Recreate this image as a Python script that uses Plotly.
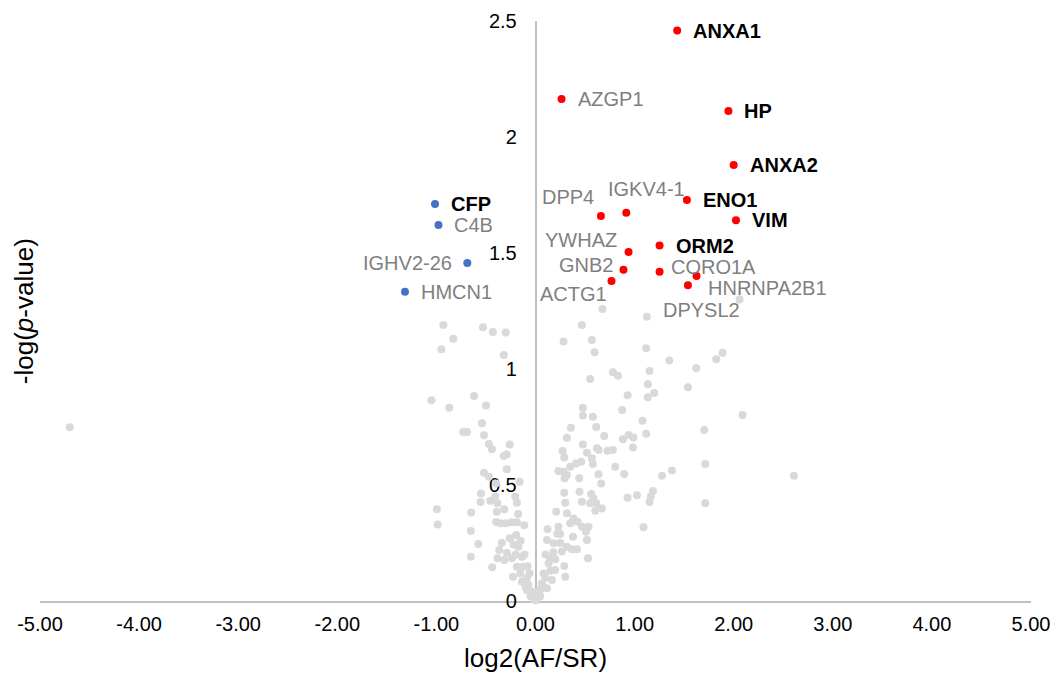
import plotly.graph_objects as go

# ---------------- data ----------------
# non-significant proteins (grey)
grey_x = [-4.70, -0.93, -0.83, -0.95, -0.53, -0.43, -0.30, -0.32, -1.05, -0.87, -0.62, -0.50,
          -0.54, -0.73, -0.69, -0.52, -0.47, -0.44, -0.26, -0.32, -0.29, -0.29, -0.52, -0.47,
          -0.40, -0.16, -0.55, -0.555, -0.457, -0.407, -0.384, -0.205, -0.188, -0.995, -0.987,
          -0.649, -0.39, -0.316, -0.397, -0.349, -0.296, -0.175, -0.238, -0.188, -0.114, -0.652,
          -0.578, -0.652, -0.437, -0.339, -0.366, -0.195, -0.222, -0.172, -0.289, -0.316, -0.238,
          -0.137, -0.121, -0.228, -0.154, -0.087, -0.071, -0.036, -0.013, -0.087, -0.137, -0.188,
          -0.384, -0.05, -0.10, -0.06, -0.11, -0.20, -0.15, -0.26, -0.03, -0.08,
          0.676, 1.124, 0.468, 0.283, 0.569, 0.596, 1.117, 1.35, 1.622, 1.151, 0.552, 0.781,
          0.832, 1.134, 1.538, 1.198, 1.134, 0.929, 0.875, 0.478, 0.478, 0.579, 0.357, 0.613,
          1.08, 1.117, 0.317, 0.693, 0.882, 0.939, 0.989, 0.983, 0.273, 0.478, 0.29, 0.519,
          0.62, 0.637, 0.727, 0.781, 0.569, 0.579, 0.461, 0.408, 0.35, 0.232, 0.283, 0.293,
          0.317, 0.441, 0.636, 0.663, 0.804, 0.895, 1.377, 1.276, 0.29, 0.444, 0.468, 0.562,
          0.585, 0.613, 0.552, 0.67, 0.603, 0.30, 0.929, 1.024, 1.185, 1.164, 1.151, 0.209,
          0.317, 0.384, 0.35, 0.424, 0.468, 0.535, 0.509, 0.519, 0.121, 0.232, 0.249, 0.378,
          0.115, 0.182, 0.317, 0.367, 0.418, 0.266, 1.09, 0.529, 0.148, 0.131, 0.29, 0.199,
          0.30, 0.081, 0.166, 0.065, 0.115, 0.014, 0.047, -0.02, 0.003, 2.059, 1.888, 1.824,
          2.089, 1.703, 1.713, 2.608, 1.713, 0.05, 0.10, 0.15, 0.20, 0.10, 0.25, 0.03, 0.07,
          0.22, 0.18]
grey_y = [0.749, 1.19, 1.13, 1.085, 1.18, 1.16, 1.157, 1.06, 0.865, 0.833, 0.884, 0.843,
          0.766, 0.728, 0.728, 0.714, 0.677, 0.654, 0.675, 0.625, 0.631, 0.568, 0.553, 0.536,
          0.507, 0.514, 0.463, 0.427, 0.432, 0.45, 0.421, 0.45, 0.424, 0.395, 0.33,
          0.382, 0.385, 0.395, 0.34, 0.335, 0.335, 0.375, 0.339, 0.339, 0.326, 0.302,
          0.246, 0.191, 0.145, 0.251, 0.22, 0.284, 0.244, 0.234, 0.208, 0.177, 0.184,
          0.191, 0.148, 0.105, 0.119, 0.098, 0.069, 0.04, 0.007, 0.047, 0.083, 0.148,
          0.184, 0.02, 0.06, 0.12, 0.20, 0.20, 0.26, 0.27, 0.03, 0.15,
          1.259, 1.225, 1.19, 1.118, 1.125, 1.072, 1.089, 1.037, 1.003, 0.991, 0.957, 0.986,
          0.971, 0.934, 0.921, 0.897, 0.878, 0.887, 0.823, 0.833, 0.80, 0.794, 0.747, 0.75,
          0.777, 0.721, 0.704, 0.711, 0.697, 0.716, 0.705, 0.662, 0.647, 0.675, 0.619, 0.639,
          0.658, 0.651, 0.648, 0.651, 0.615, 0.591, 0.60, 0.593, 0.579, 0.56, 0.557, 0.529,
          0.543, 0.529, 0.546, 0.507, 0.579, 0.547, 0.563, 0.54, 0.467, 0.471, 0.428, 0.461,
          0.443, 0.421, 0.421, 0.399, 0.389, 0.424, 0.445, 0.456, 0.474, 0.45, 0.427, 0.385,
          0.378, 0.356, 0.335, 0.342, 0.32, 0.32, 0.299, 0.263, 0.309, 0.32, 0.289, 0.277,
          0.263, 0.249, 0.234, 0.223, 0.223, 0.213, 0.318, 0.184, 0.184, 0.162, 0.151, 0.134,
          0.105, 0.119, 0.091, 0.076, 0.055, 0.04, 0.019, 0.012, 0.003, 1.30, 1.07, 1.042,
          0.802, 0.737, 0.591, 0.54, 0.421, 0.05, 0.10, 0.13, 0.18, 0.20, 0.25, 0.02, 0.06,
          0.29, 0.21]

# up-regulated proteins (red)
up_names = ["ANXA1", "AZGP1", "HP", "ANXA2", "ENO1", "VIM", "DPP4", "IGKV4-1", "YWHAZ",
            "ORM2", "GNB2", "CORO1A", "ACTG1", "HNRNPA2B1", "DPYSL2"]
up_x = [1.43, 0.263, 1.947, 2.00, 1.528, 2.023, 0.660, 0.916, 0.939,
        1.252, 0.888, 1.252, 0.767, 1.625, 1.538]
up_y = [2.459, 2.164, 2.112, 1.879, 1.728, 1.641, 1.659, 1.674, 1.504,
        1.532, 1.428, 1.419, 1.379, 1.401, 1.361]
up_bold = [True, False, True, True, True, True, False, False, False,
           True, False, False, False, False, False]

# down-regulated proteins (blue)
down_names = ["CFP", "C4B", "IGHV2-26", "HMCN1"]
down_x = [-1.014, -0.979, -0.688, -1.317]
down_y = [1.711, 1.621, 1.457, 1.333]
down_bold = [True, False, False, False]

x_tickvals = [-5, -4, -3, -2, -1, 0, 1, 2, 3, 4, 5]
x_ticktext = ["-5.00", "-4.00", "-3.00", "-2.00", "-1.00", "0.00",
              "1.00", "2.00", "3.00", "4.00", "5.00"]
y_tickvals = [0, 0.5, 1, 1.5, 2, 2.5]
y_ticktext = ["0", "0.5", "1", "1.5", "2", "2.5"]

# ---------------- styles ----------------
FONT = "Liberation Sans, Arial, sans-serif"
GREY_DOT = "#d9d9d9"
RED = "#ff0000"
BLUE = "#4472c4"
LABEL_GREY = "#7f7f7f"
AXIS_LINE = "#bfbfbf"

# label placement (anchor, xshift, yshift in pixels)
label_pos = {
    "ANXA1": ("left", 15, 0), "AZGP1": ("left", 15, 0), "HP": ("left", 15, 0),
    "ANXA2": ("left", 15, 0), "ENO1": ("left", 15, 0), "VIM": ("left", 15, 0),
    "ORM2": ("left", 15, 0), "DPP4": ("right", -6, 19), "IGKV4-1": ("center", 20, 24),
    "YWHAZ": ("right", -11, 12), "GNB2": ("right", -10, 5), "CORO1A": ("left", 10, 5),
    "ACTG1": ("right", -4, -13), "HNRNPA2B1": ("left", 10, -12), "DPYSL2": ("center", 14, -25),
    "CFP": ("left", 15, 0), "C4B": ("left", 15, 0), "IGHV2-26": ("right", -14, 0),
    "HMCN1": ("left", 15, 0),
}

fig = go.Figure()
fig.add_trace(go.Scatter(x=grey_x, y=grey_y, mode="markers", cliponaxis=False,
                         marker=dict(size=8, color=GREY_DOT), hoverinfo="skip"))
fig.add_trace(go.Scatter(x=up_x, y=up_y, mode="markers", cliponaxis=False,
                         marker=dict(size=8, color=RED), text=up_names))
fig.add_trace(go.Scatter(x=down_x, y=down_y, mode="markers", cliponaxis=False,
                         marker=dict(size=8, color=BLUE), text=down_names))

annotations = []
for names, xs, ys, bolds in [(up_names, up_x, up_y, up_bold),
                             (down_names, down_x, down_y, down_bold)]:
    for n, x, y, b in zip(names, xs, ys, bolds):
        anc, xs_, ys_ = label_pos[n]
        annotations.append(dict(
            x=x, y=y, xref="x", yref="y", showarrow=False,
            text=f"<b>{n}</b>" if b else n,
            xanchor=anc, yanchor="middle", xshift=xs_, yshift=ys_,
            font=dict(family=FONT, size=20, color="#000000" if b else LABEL_GREY),
            borderpad=0,
        ))

annotations.append(dict(x=-0.016, y=0.5, xref="paper", yref="paper", showarrow=False,
                        text="-log(<i>p</i>-value)", textangle=-90,
                        xanchor="center", yanchor="middle",
                        font=dict(family=FONT, size=26, color="#000000")))
annotations.append(dict(x=0.5, y=-0.098, xref="paper", yref="paper", showarrow=False,
                        text="log2(AF/SR)", xanchor="center", yanchor="middle",
                        font=dict(family=FONT, size=26, color="#000000")))

fig.update_layout(
    width=1053, height=673,
    margin=dict(l=40, r=22, t=21, b=72),
    paper_bgcolor="white", plot_bgcolor="white",
    showlegend=False,
    font=dict(family=FONT, size=20, color="#000000"),
    annotations=annotations,
    xaxis=dict(range=[-5, 5], tickvals=x_tickvals, ticktext=x_ticktext,
               showline=True, linecolor=AXIS_LINE, linewidth=1.5,
               showgrid=False, zeroline=False, ticks="", ticklabelstandoff=4,
               automargin=False, ticklabeloverflow="allow",
               layer="below traces", tickfont=dict(size=20, color="#000000")),
    yaxis=dict(range=[0, 2.5], tickvals=y_tickvals, ticktext=y_ticktext,
               anchor="free", position=0.5, automargin=False,
               showline=True, linecolor=AXIS_LINE, linewidth=1.5,
               showgrid=False, zeroline=False, ticks="", ticklabelstandoff=14,
               layer="below traces", tickfont=dict(size=20, color="#000000")),
)

fig.write_html("out.html")
